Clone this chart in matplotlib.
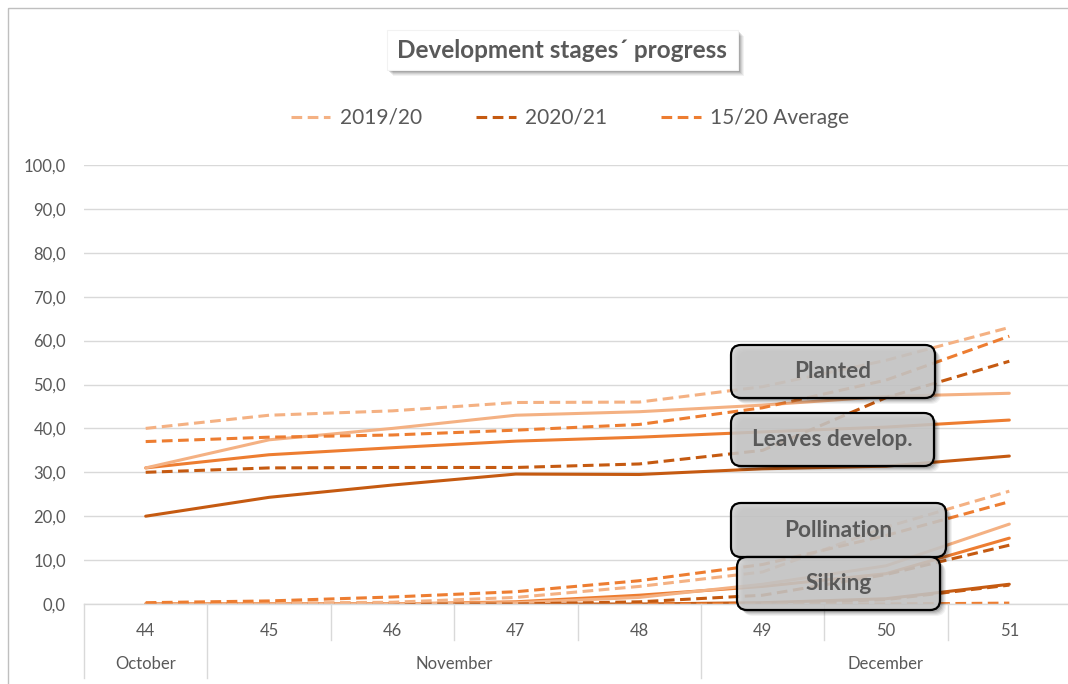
import matplotlib
matplotlib.use("Agg")
import matplotlib.pyplot as plt
from matplotlib.patches import FancyBboxPatch, Rectangle
import matplotlib.transforms as mtransforms

plt.rcParams['font.family'] = ['Lato', 'DejaVu Sans']

# ---------------- data ----------------
weeks = ['44', '45', '46', '47', '48', '49', '50', '51']
months = ['October', 'November', 'December']
month_spans = [(0, 0), (1, 4), (5, 7)]          # first / last week index of each month
series_labels = ['2019/20', '2020/21', '15/20 Average']

# Planted (dashed)
planted_1920 = [40.0, 43.0, 44.0, 45.9, 46.0, 49.5, 55.5, 63.0]
planted_2021 = [30.0, 31.0, 31.1, 31.1, 31.9, 35.0, 47.0, 55.3]
planted_avg = [37.0, 38.0, 38.5, 39.6, 40.9, 44.7, 51.0, 61.0]
# Leaves development (solid)
leaves_1920 = [31.0, 37.4, 40.0, 43.0, 43.8, 45.3, 47.3, 48.0]
leaves_2021 = [20.0, 24.3, 27.1, 29.6, 29.5, 30.8, 31.4, 33.7]
leaves_avg = [31.0, 34.0, 35.6, 37.1, 38.0, 39.2, 40.3, 41.9]
# Pollination (dashed)
pollin_1920 = [0.0, 0.2, 0.4, 1.5, 4.0, 7.3, 17.5, 25.7]
pollin_2021 = [0.0, 0.0, 0.0, 0.0, 0.5, 2.0, 6.7, 13.4]
pollin_avg = [0.3, 0.7, 1.6, 2.8, 5.3, 9.0, 15.6, 23.3]
# Silking (solid + dashed)
silk_1920 = [0.0, 0.0, 0.0, 0.3, 1.5, 4.5, 8.7, 18.2]
silk_2021 = [0.0, 0.0, 0.0, 0.0, 0.0, 0.3, 1.2, 4.5]
silk_avg = [0.0, 0.0, 0.0, 0.5, 2.0, 4.0, 6.9, 15.0]
silk_2021_d = [0.0, 0.0, 0.0, 0.0, 0.0, 0.0, 1.0, 4.3]
silk_avg_d = [0.0, 0.0, 0.0, 0.0, 0.0, 0.0, 0.0, 0.2]

stage_labels = ['Planted', 'Leaves develop.', 'Pollination', 'Silking']

# ---------------- style ----------------
LIGHT = '#F4B183'
MED = '#ED7D31'
DARK = '#C55A11'
GRID = '#D9D9D9'
TXT = '#595959'
LW = 2.2
DASH = (3.5, 1.8)

W, H = 1068, 684
fig = plt.figure(figsize=(W / 100, H / 100), dpi=100)
fig.patch.set_facecolor('white')

ax = fig.add_axes([84 / W, (H - 604) / H, (1071 - 84) / W, (604 - 165) / H])
x = list(range(len(weeks)))

def dline(y, c, label=None):
    return ax.plot(x, y, color=c, lw=LW, dashes=DASH, label=label, solid_capstyle='round')[0]

def sline(y, c):
    ax.plot(x, y, color=c, lw=LW, solid_capstyle='round')

# bottom groups
sline(silk_2021, DARK)
dline(silk_2021_d, DARK)
dline(silk_avg_d, MED)
sline(silk_avg, MED)
sline(silk_1920, LIGHT)
dline(pollin_2021, DARK)
dline(pollin_1920, LIGHT)
dline(pollin_avg, MED)
# upper groups
sline(leaves_2021, DARK)
sline(leaves_avg, MED)
sline(leaves_1920, LIGHT)
h1 = dline(planted_1920, LIGHT, series_labels[0])
h2 = dline(planted_2021, DARK, series_labels[1])
h3 = dline(planted_avg, MED, series_labels[2])

ax.set_xlim(-0.5, len(weeks) - 0.5)
ax.set_ylim(0, 100)
yt = list(range(0, 101, 10))
ax.set_yticks(yt)
ax.set_yticklabels([f"{v:.1f}".replace('.', ',') for v in yt], color=TXT, fontsize=12)
ax.set_xticks(x)
ax.set_xticklabels(weeks, color=TXT, fontsize=12)
ax.tick_params(axis='both', length=0)
ax.tick_params(axis='y', pad=13)
ax.tick_params(axis='x', pad=14)
ax.yaxis.grid(True, color=GRID, lw=1)
ax.set_axisbelow(True)
for s in ['top', 'right', 'left']:
    ax.spines[s].set_visible(False)
ax.spines['bottom'].set_color(GRID)
ax.spines['bottom'].set_linewidth(1)

trans = mtransforms.blended_transform_factory(ax.transData, ax.transAxes)
month_starts = [s for s, e in month_spans]
for b in range(len(weeks) + 1):
    xb = b - 0.5
    full = b in month_starts or b == len(weeks)
    ax.plot([xb, xb], [0, -0.169 if full else -0.082], transform=trans,
            color=GRID, lw=1, clip_on=False)
for m, (s, e) in zip(months, month_spans):
    ax.text((s + e) / 2, -0.137, m, transform=trans, ha='center', va='center',
            color=TXT, fontsize=12)

leg = fig.legend([h1, h2, h3], series_labels, loc='center',
                 bbox_to_anchor=(570 / W, 1 - 118 / H), ncol=3, frameon=False,
                 fontsize=15, handlelength=1.9, handletextpad=0.45, columnspacing=2.6)
for t in leg.get_texts():
    t.set_color(TXT)

# ---------------- overlay (title box, stage boxes, border) ----------------
ov = fig.add_axes([0, 0, 1, 1], zorder=5)
ov.set_xlim(0, W)
ov.set_ylim(H, 0)
ov.axis('off')
ov.patch.set_alpha(0)

ov.add_patch(Rectangle((8, 8), W, H, fill=False, edgecolor='#BFBFBF', lw=1))

def shadow(x0, y0, w, h, r):
    for k, a in [(6, 0.05), (5, 0.06), (4, 0.08), (3, 0.10), (2, 0.12)]:
        ov.add_patch(FancyBboxPatch((x0 + k, y0 + k), w, h,
                                    boxstyle=f'round,pad=0,rounding_size={r}',
                                    facecolor='black', edgecolor='none', alpha=a))

# title
shadow(387, 30, 351, 40, 0.1)
ov.add_patch(Rectangle((387, 30), 351, 40, facecolor='white', edgecolor='#F2F2F2', lw=0.8))
ov.text(562, 50, 'Development stages\u00b4 progress', ha='center', va='center',
        fontsize=17.5, fontweight='bold', color=TXT)

boxes = [(731, 345, 204, 53), (731, 413, 203, 53), (731, 503, 215, 54), (737, 557, 203, 53)]
for (bx, by, bw, bh), lab in zip(boxes, stage_labels):
    shadow(bx, by, bw, bh, 10)
    ov.add_patch(FancyBboxPatch((bx, by), bw, bh, boxstyle='round,pad=0,rounding_size=10',
                                facecolor=(0.81, 0.81, 0.81, 0.84), edgecolor='black', lw=1.6))
    ov.text(bx + bw / 2, by + bh / 2 + 0.5, lab, ha='center', va='center',
            fontsize=16.3, fontweight='bold', color=TXT)

fig.savefig('out.png', dpi=100)
